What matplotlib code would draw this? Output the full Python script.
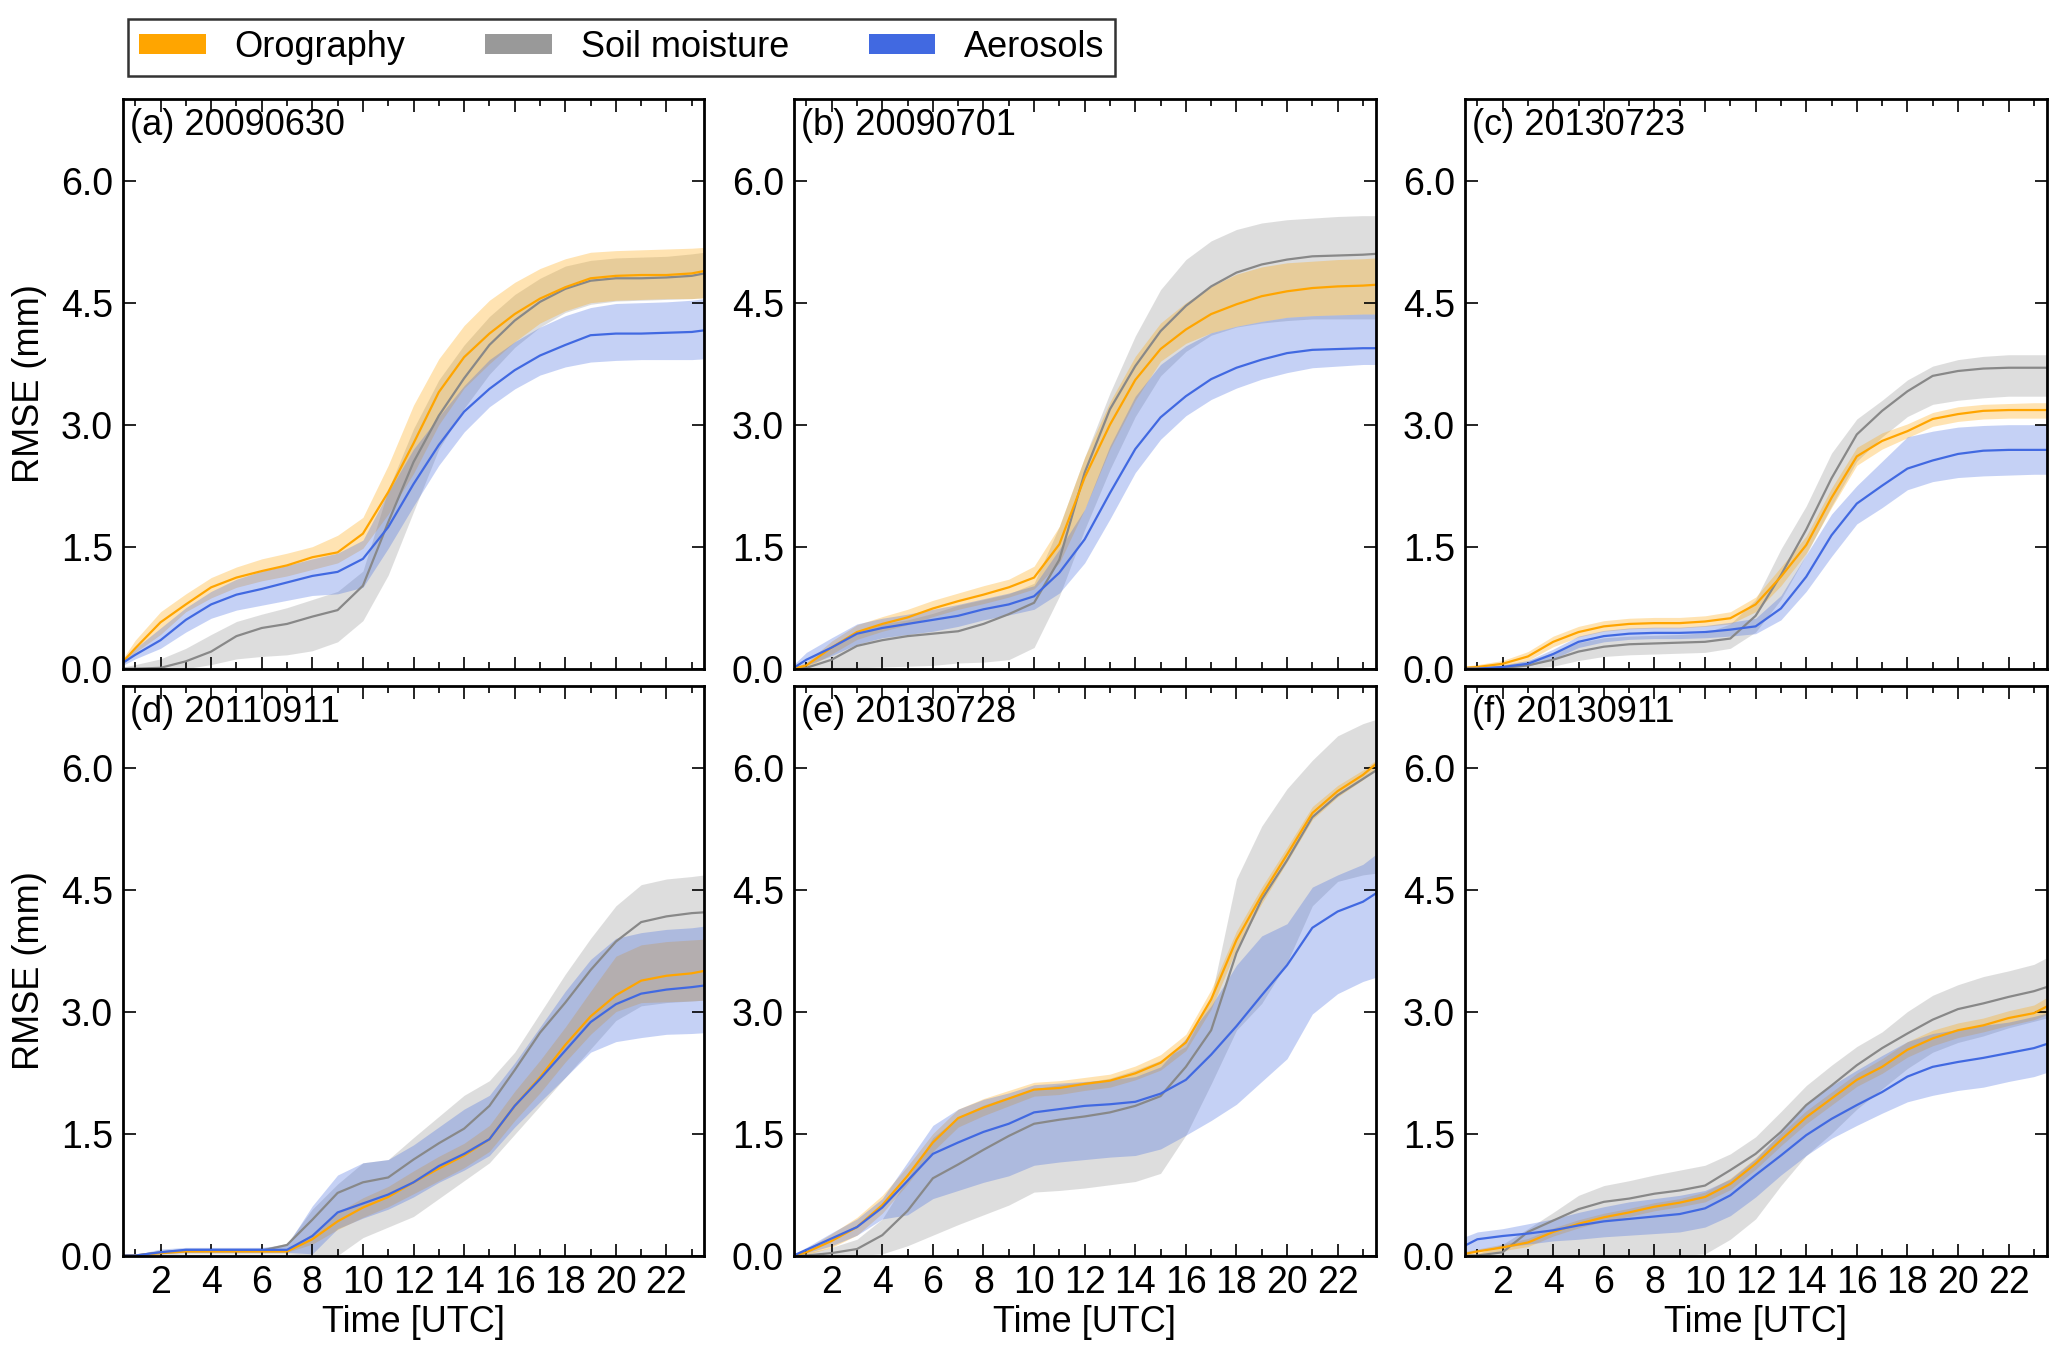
import matplotlib
matplotlib.use("Agg")
from matplotlib import pyplot as plt
from matplotlib.patches import Patch
from matplotlib.ticker import MultipleLocator, FormatStrFormatter

# =================================================
#  ========== PRELIM : CONFIG MATPLOTLIB ==========
# =================================================
matplotlib.rcParams["font.family"] = ["Liberation Sans", "DejaVu Sans"]
matplotlib.rcParams["font.size"] = 26

# hours (UTC)
hours = [0.5, 1, 2, 3, 4, 5, 6, 7, 8, 9, 10, 11, 12, 13, 14, 15, 16, 17, 18, 19, 20, 21, 22, 23, 23.5]

labels = ["(a) 20090630", "(b) 20090701", "(c) 20130723",
          "(d) 20110911", "(e) 20130728", "(f) 20130911"]
series_names = ["Orography", "Soil moisture", "Aerosols"]

# ---------- (a) 20090630 ----------
a_oro = [0.08, 0.25, 0.57, 0.79, 1.0, 1.12, 1.2, 1.27, 1.37, 1.43, 1.66, 2.17, 2.77, 3.4, 3.83, 4.12, 4.36, 4.55, 4.69, 4.8, 4.83, 4.84, 4.84, 4.86, 4.89]
a_oro_lo = [0.05, 0.2, 0.42, 0.7, 0.87, 1.0, 1.08, 1.14, 1.22, 1.3, 1.48, 1.9, 2.4, 3.0, 3.45, 3.75, 4.02, 4.25, 4.4, 4.5, 4.53, 4.54, 4.55, 4.55, 4.56]
a_oro_hi = [0.12, 0.35, 0.7, 0.92, 1.12, 1.25, 1.35, 1.42, 1.5, 1.64, 1.86, 2.5, 3.24, 3.81, 4.22, 4.53, 4.75, 4.92, 5.04, 5.12, 5.14, 5.15, 5.16, 5.17, 5.18]
a_soil = [0.0, 0.0, 0.01, 0.09, 0.21, 0.4, 0.5, 0.55, 0.64, 0.72, 1.02, 1.8, 2.54, 3.11, 3.57, 3.98, 4.28, 4.51, 4.67, 4.77, 4.8, 4.8, 4.81, 4.83, 4.86]
a_soil_lo = [0.0, 0.0, 0.0, 0.0, 0.05, 0.12, 0.15, 0.17, 0.22, 0.33, 0.59, 1.15, 1.93, 2.7, 3.2, 3.62, 3.95, 4.2, 4.38, 4.48, 4.52, 4.53, 4.54, 4.55, 4.56]
a_soil_hi = [0.02, 0.05, 0.12, 0.25, 0.42, 0.58, 0.67, 0.75, 0.85, 0.95, 1.2, 2.2, 2.95, 3.55, 3.98, 4.33, 4.6, 4.8, 4.95, 5.02, 5.05, 5.06, 5.07, 5.1, 5.12]
a_aer = [0.07, 0.17, 0.35, 0.6, 0.79, 0.91, 0.98, 1.06, 1.14, 1.19, 1.35, 1.74, 2.27, 2.75, 3.16, 3.44, 3.67, 3.85, 3.98, 4.1, 4.12, 4.12, 4.13, 4.14, 4.16]
a_aer_lo = [0.04, 0.12, 0.25, 0.45, 0.62, 0.72, 0.78, 0.84, 0.9, 0.92, 1.0, 1.48, 2.0, 2.5, 2.91, 3.22, 3.44, 3.61, 3.71, 3.77, 3.79, 3.8, 3.8, 3.8, 3.81]
a_aer_hi = [0.1, 0.25, 0.5, 0.75, 0.95, 1.1, 1.2, 1.27, 1.35, 1.42, 1.58, 2.17, 2.7, 3.1, 3.48, 3.8, 4.02, 4.2, 4.34, 4.44, 4.49, 4.5, 4.51, 4.53, 4.55]

# ---------- (b) 20090701 ----------
b_oro = [0.0, 0.04, 0.26, 0.45, 0.55, 0.63, 0.74, 0.83, 0.91, 1.0, 1.12, 1.53, 2.35, 3.0, 3.55, 3.93, 4.17, 4.36, 4.48, 4.58, 4.64, 4.68, 4.7, 4.71, 4.72]
b_oro_lo = [0.0, 0.01, 0.18, 0.36, 0.46, 0.54, 0.64, 0.73, 0.8, 0.88, 0.98, 1.3, 1.96, 2.7, 3.3, 3.78, 4.0, 4.13, 4.21, 4.27, 4.32, 4.34, 4.35, 4.36, 4.36]
b_oro_hi = [0.02, 0.08, 0.34, 0.54, 0.64, 0.73, 0.84, 0.93, 1.02, 1.1, 1.26, 1.75, 2.6, 3.28, 3.84, 4.25, 4.5, 4.7, 4.85, 4.94, 4.99, 5.01, 5.03, 5.04, 5.05]
b_soil = [0.0, 0.01, 0.11, 0.28, 0.35, 0.4, 0.43, 0.46, 0.55, 0.67, 0.81, 1.34, 2.41, 3.19, 3.72, 4.15, 4.46, 4.7, 4.87, 4.97, 5.03, 5.07, 5.08, 5.09, 5.1]
b_soil_lo = [0.0, 0.0, 0.0, 0.01, 0.02, 0.03, 0.04, 0.07, 0.08, 0.11, 0.26, 0.89, 1.71, 2.45, 3.1, 3.6, 3.9, 4.1, 4.2, 4.25, 4.28, 4.3, 4.3, 4.3, 4.3]
b_soil_hi = [0.02, 0.05, 0.25, 0.45, 0.55, 0.6, 0.68, 0.78, 0.85, 0.92, 1.05, 1.75, 2.6, 3.39, 4.09, 4.66, 5.03, 5.26, 5.4, 5.48, 5.52, 5.54, 5.56, 5.57, 5.57]
b_aer = [0.01, 0.11, 0.26, 0.43, 0.5, 0.55, 0.6, 0.65, 0.73, 0.79, 0.89, 1.18, 1.59, 2.16, 2.7, 3.09, 3.35, 3.56, 3.7, 3.8, 3.88, 3.92, 3.93, 3.94, 3.94]
b_aer_lo = [0.0, 0.04, 0.16, 0.3, 0.38, 0.42, 0.46, 0.52, 0.6, 0.66, 0.73, 0.93, 1.3, 1.84, 2.41, 2.82, 3.11, 3.31, 3.45, 3.56, 3.64, 3.7, 3.72, 3.74, 3.74]
b_aer_hi = [0.05, 0.2, 0.38, 0.55, 0.62, 0.67, 0.73, 0.79, 0.86, 0.93, 1.02, 1.47, 1.96, 2.74, 3.35, 3.74, 3.97, 4.13, 4.21, 4.27, 4.32, 4.34, 4.35, 4.36, 4.36]

# ---------- (c) 20130723 ----------
c_oro = [0.01, 0.02, 0.06, 0.15, 0.33, 0.45, 0.52, 0.55, 0.56, 0.56, 0.58, 0.62, 0.79, 1.13, 1.52, 2.1, 2.61, 2.8, 2.92, 3.07, 3.13, 3.17, 3.18, 3.18, 3.18]
c_oro_lo = [0.0, 0.0, 0.03, 0.1, 0.27, 0.39, 0.46, 0.49, 0.5, 0.5, 0.52, 0.55, 0.7, 1.02, 1.42, 1.98, 2.5, 2.7, 2.84, 2.98, 3.04, 3.07, 3.08, 3.08, 3.08]
c_oro_hi = [0.03, 0.05, 0.1, 0.21, 0.4, 0.52, 0.59, 0.62, 0.63, 0.63, 0.65, 0.7, 0.88, 1.25, 1.63, 2.22, 2.72, 2.9, 3.01, 3.15, 3.22, 3.25, 3.26, 3.27, 3.27]
c_soil = [0.0, 0.0, 0.01, 0.04, 0.11, 0.21, 0.27, 0.3, 0.31, 0.32, 0.33, 0.37, 0.65, 1.15, 1.71, 2.34, 2.88, 3.17, 3.41, 3.6, 3.66, 3.69, 3.7, 3.7, 3.7]
c_soil_lo = [0.0, 0.0, 0.0, 0.0, 0.03, 0.1, 0.15, 0.17, 0.18, 0.19, 0.2, 0.25, 0.45, 0.85, 1.4, 2.0, 2.55, 2.85, 3.1, 3.25, 3.3, 3.33, 3.35, 3.35, 3.35]
c_soil_hi = [0.01, 0.02, 0.05, 0.1, 0.2, 0.32, 0.38, 0.4, 0.41, 0.42, 0.44, 0.55, 0.85, 1.47, 2.0, 2.65, 3.07, 3.3, 3.55, 3.72, 3.8, 3.84, 3.86, 3.86, 3.86]
c_aer = [0.0, 0.0, 0.02, 0.06, 0.18, 0.33, 0.4, 0.43, 0.44, 0.44, 0.45, 0.48, 0.52, 0.74, 1.13, 1.64, 2.03, 2.25, 2.46, 2.56, 2.64, 2.68, 2.69, 2.69, 2.69]
c_aer_lo = [0.0, 0.0, 0.0, 0.03, 0.12, 0.26, 0.33, 0.36, 0.37, 0.37, 0.38, 0.4, 0.43, 0.6, 0.95, 1.38, 1.78, 1.98, 2.2, 2.3, 2.35, 2.37, 2.38, 2.39, 2.39]
c_aer_hi = [0.01, 0.02, 0.04, 0.1, 0.24, 0.4, 0.47, 0.5, 0.51, 0.51, 0.53, 0.57, 0.62, 0.9, 1.4, 1.9, 2.25, 2.55, 2.85, 2.92, 2.97, 2.99, 3.0, 3.0, 3.0]

# ---------- (d) 20110911 ----------
d_oro = [0.0, 0.0, 0.03, 0.05, 0.05, 0.05, 0.05, 0.05, 0.2, 0.42, 0.59, 0.72, 0.9, 1.07, 1.23, 1.43, 1.84, 2.19, 2.59, 2.94, 3.2, 3.38, 3.44, 3.47, 3.5]
d_oro_lo = [0.0, 0.0, 0.02, 0.04, 0.04, 0.04, 0.04, 0.04, 0.14, 0.32, 0.47, 0.6, 0.76, 0.92, 1.08, 1.28, 1.66, 2.0, 2.38, 2.72, 3.0, 3.11, 3.12, 3.13, 3.14]
d_oro_hi = [0.0, 0.01, 0.05, 0.07, 0.07, 0.07, 0.07, 0.07, 0.27, 0.53, 0.71, 0.85, 1.04, 1.22, 1.38, 1.6, 2.02, 2.4, 2.81, 3.25, 3.68, 3.82, 3.86, 3.88, 3.89]
d_soil = [0.0, 0.0, 0.04, 0.06, 0.06, 0.06, 0.06, 0.13, 0.44, 0.77, 0.9, 0.96, 1.18, 1.38, 1.56, 1.84, 2.28, 2.74, 3.11, 3.51, 3.86, 4.1, 4.17, 4.21, 4.22]
d_soil_lo = [0.0, 0.0, 0.0, 0.02, 0.02, 0.02, 0.02, 0.02, 0.0, 0.0, 0.22, 0.35, 0.48, 0.7, 0.92, 1.14, 1.49, 1.84, 2.19, 2.54, 2.89, 3.07, 3.11, 3.13, 3.14]
d_soil_hi = [0.0, 0.01, 0.06, 0.09, 0.09, 0.09, 0.09, 0.15, 0.57, 0.88, 1.14, 1.18, 1.45, 1.71, 1.97, 2.15, 2.5, 2.98, 3.46, 3.9, 4.3, 4.56, 4.63, 4.66, 4.68]
d_aer = [0.0, 0.0, 0.04, 0.07, 0.07, 0.07, 0.07, 0.07, 0.24, 0.53, 0.64, 0.75, 0.9, 1.1, 1.25, 1.43, 1.84, 2.17, 2.52, 2.87, 3.09, 3.22, 3.27, 3.3, 3.32]
d_aer_lo = [0.0, 0.0, 0.02, 0.04, 0.04, 0.04, 0.04, 0.04, 0.02, 0.33, 0.46, 0.57, 0.72, 0.9, 1.05, 1.23, 1.58, 1.89, 2.19, 2.5, 2.63, 2.68, 2.72, 2.73, 2.74]
d_aer_hi = [0.0, 0.01, 0.08, 0.1, 0.1, 0.1, 0.1, 0.13, 0.61, 0.99, 1.14, 1.18, 1.36, 1.58, 1.8, 1.97, 2.37, 2.81, 3.25, 3.64, 3.9, 3.97, 4.01, 4.03, 4.05]

# ---------- (e) 20130728 ----------
e_oro = [0.0, 0.04, 0.18, 0.35, 0.62, 0.98, 1.39, 1.69, 1.82, 1.93, 2.04, 2.06, 2.11, 2.15, 2.24, 2.37, 2.62, 3.15, 3.88, 4.43, 4.93, 5.44, 5.71, 5.91, 6.04]
e_oro_lo = [0.0, 0.01, 0.1, 0.25, 0.52, 0.88, 1.28, 1.58, 1.72, 1.84, 1.96, 1.98, 2.03, 2.07, 2.16, 2.28, 2.52, 3.03, 3.77, 4.33, 4.84, 5.36, 5.64, 5.85, 5.99]
e_oro_hi = [0.02, 0.08, 0.27, 0.47, 0.74, 1.1, 1.5, 1.8, 1.93, 2.03, 2.13, 2.15, 2.19, 2.23, 2.33, 2.47, 2.72, 3.27, 3.99, 4.53, 5.02, 5.52, 5.78, 5.97, 6.09]
e_soil = [0.0, 0.0, 0.03, 0.08, 0.25, 0.55, 0.95, 1.12, 1.3, 1.47, 1.62, 1.67, 1.71, 1.76, 1.84, 1.96, 2.32, 2.77, 3.72, 4.38, 4.86, 5.39, 5.66, 5.86, 5.96]
e_soil_lo = [0.0, 0.0, 0.0, 0.0, 0.02, 0.12, 0.25, 0.38, 0.5, 0.62, 0.78, 0.8, 0.83, 0.87, 0.91, 1.01, 1.48, 2.11, 2.77, 3.1, 3.6, 4.3, 4.6, 4.68, 4.7]
e_soil_hi = [0.01, 0.03, 0.1, 0.2, 0.45, 0.95, 1.45, 1.7, 1.85, 1.95, 2.05, 2.1, 2.13, 2.18, 2.28, 2.4, 2.57, 3.17, 4.63, 5.28, 5.74, 6.09, 6.39, 6.54, 6.59]
e_aer = [0.0, 0.07, 0.21, 0.35, 0.59, 0.92, 1.25, 1.39, 1.52, 1.62, 1.76, 1.8, 1.84, 1.86, 1.89, 1.99, 2.16, 2.47, 2.82, 3.2, 3.57, 4.03, 4.23, 4.35, 4.45]
e_aer_lo = [0.0, 0.03, 0.12, 0.25, 0.45, 0.5, 0.7, 0.8, 0.9, 0.98, 1.11, 1.15, 1.18, 1.21, 1.23, 1.31, 1.48, 1.66, 1.86, 2.14, 2.42, 2.97, 3.22, 3.37, 3.42]
e_aer_hi = [0.02, 0.1, 0.28, 0.45, 0.7, 1.15, 1.6, 1.8, 1.92, 2.0, 2.1, 2.12, 2.14, 2.16, 2.2, 2.32, 2.67, 3.07, 3.57, 3.93, 4.08, 4.53, 4.68, 4.81, 4.93]

# ---------- (f) 20130911 ----------
f_oro = [0.02, 0.05, 0.1, 0.16, 0.29, 0.39, 0.47, 0.53, 0.6, 0.65, 0.72, 0.88, 1.13, 1.42, 1.7, 1.93, 2.16, 2.32, 2.53, 2.67, 2.77, 2.83, 2.92, 2.98, 3.06]
f_oro_lo = [0.0, 0.02, 0.06, 0.11, 0.24, 0.34, 0.42, 0.48, 0.55, 0.6, 0.66, 0.81, 1.06, 1.35, 1.62, 1.85, 2.08, 2.24, 2.44, 2.58, 2.68, 2.75, 2.83, 2.9, 2.96]
f_oro_hi = [0.05, 0.08, 0.14, 0.21, 0.34, 0.44, 0.52, 0.58, 0.65, 0.7, 0.78, 0.95, 1.2, 1.5, 1.78, 2.01, 2.24, 2.42, 2.63, 2.77, 2.86, 2.92, 3.01, 3.08, 3.17]
f_soil = [0.0, 0.0, 0.04, 0.29, 0.43, 0.57, 0.66, 0.7, 0.76, 0.8, 0.86, 1.05, 1.25, 1.52, 1.85, 2.09, 2.34, 2.55, 2.73, 2.9, 3.03, 3.1, 3.18, 3.25, 3.3]
f_soil_lo = [0.0, 0.0, 0.0, 0.0, 0.0, 0.0, 0.0, 0.0, 0.0, 0.0, 0.02, 0.2, 0.45, 0.86, 1.23, 1.5, 1.8, 2.05, 2.3, 2.5, 2.62, 2.7, 2.8, 2.88, 2.92]
f_soil_hi = [0.0, 0.02, 0.14, 0.33, 0.53, 0.74, 0.86, 0.92, 0.99, 1.05, 1.11, 1.25, 1.46, 1.77, 2.09, 2.34, 2.57, 2.75, 3.0, 3.2, 3.33, 3.43, 3.5, 3.58, 3.66]
f_aer = [0.12, 0.2, 0.24, 0.27, 0.31, 0.37, 0.42, 0.45, 0.48, 0.51, 0.58, 0.74, 0.99, 1.23, 1.48, 1.68, 1.85, 2.01, 2.2, 2.32, 2.38, 2.43, 2.49, 2.55, 2.6]
f_aer_lo = [0.02, 0.06, 0.1, 0.14, 0.18, 0.2, 0.23, 0.25, 0.27, 0.29, 0.35, 0.49, 0.72, 0.99, 1.23, 1.44, 1.6, 1.75, 1.89, 1.97, 2.03, 2.07, 2.14, 2.2, 2.25]
f_aer_hi = [0.23, 0.29, 0.33, 0.39, 0.45, 0.53, 0.6, 0.66, 0.7, 0.74, 0.8, 0.94, 1.19, 1.52, 1.85, 2.09, 2.28, 2.46, 2.63, 2.73, 2.78, 2.83, 2.87, 2.94, 2.98]

panels = [
    [(a_oro, a_oro_lo, a_oro_hi), (a_soil, a_soil_lo, a_soil_hi), (a_aer, a_aer_lo, a_aer_hi)],
    [(b_oro, b_oro_lo, b_oro_hi), (b_soil, b_soil_lo, b_soil_hi), (b_aer, b_aer_lo, b_aer_hi)],
    [(c_oro, c_oro_lo, c_oro_hi), (c_soil, c_soil_lo, c_soil_hi), (c_aer, c_aer_lo, c_aer_hi)],
    [(d_oro, d_oro_lo, d_oro_hi), (d_soil, d_soil_lo, d_soil_hi), (d_aer, d_aer_lo, d_aer_hi)],
    [(e_oro, e_oro_lo, e_oro_hi), (e_soil, e_soil_lo, e_soil_hi), (e_aer, e_aer_lo, e_aer_hi)],
    [(f_oro, f_oro_lo, f_oro_hi), (f_soil, f_soil_lo, f_soil_hi), (f_aer, f_aer_lo, f_aer_hi)],
]

line_colors = ["#FFA500", "#888888", "#4169E1"]
fill_alphas = [0.3, 0.28, 0.3]
legend_colors = ["#FFA500", "#999999", "#4169E1"]

# =================================================
#         ========== DRAW PANELS ==========
# =================================================
fig = plt.figure(figsize=(20.67, 13.61), dpi=100)

lefts = [0.0593, 0.384, 0.7086]
bottoms = [0.5087, 0.0775]
w, h = 0.2815, 0.4183

for i, data in enumerate(panels):
    row, col = divmod(i, 3)
    ax = fig.add_axes([lefts[col], bottoms[row], w, h])

    # shaded ranges first, soil moisture underneath
    for k in [1, 0, 2]:
        mean, lo, hi = data[k]
        ax.fill_between(hours, lo, hi, color=line_colors[k], alpha=fill_alphas[k], linewidth=0)
    for k in [1, 0, 2]:
        mean, lo, hi = data[k]
        ax.plot(hours, mean, color=line_colors[k], linewidth=1.6)

    ax.set_xlim(0.5, 23.5)
    ax.set_ylim(0, 7.0)
    ax.set_xticks(range(2, 24, 2))
    ax.xaxis.set_minor_locator(MultipleLocator(1))
    ax.yaxis.set_major_locator(MultipleLocator(1.5))
    ax.yaxis.set_major_formatter(FormatStrFormatter("%.1f"))
    ax.tick_params(which="both", direction="in", top=True, right=True, width=1.2)
    ax.tick_params(which="major", length=9, labelsize=27, pad=7)
    ax.tick_params(which="minor", length=5)
    for s in ax.spines.values():
        s.set_linewidth(2.0)

    ax.text(0.012, 0.985, labels[i], transform=ax.transAxes, ha="left", va="top", fontsize=26)

    if row == 0:
        ax.tick_params(labelbottom=False)
    else:
        ax.set_xlabel("Time [UTC]", fontsize=26, labelpad=3)
    if col == 0:
        ax.set_ylabel("RMSE (mm)", fontsize=26, labelpad=10)

handles = [Patch(facecolor=c, edgecolor="none") for c in legend_colors]
leg = fig.legend(handles, series_names, loc="upper left", bbox_to_anchor=(0.062, 0.986),
                 ncol=3, fontsize=26, frameon=True, fancybox=False, borderaxespad=0,
                 handlelength=1.85, handleheight=0.45, handletextpad=0.8,
                 columnspacing=2.2, borderpad=0.3)
leg.get_frame().set_edgecolor("black")
leg.get_frame().set_linewidth(1.8)

plt.savefig("out.png", dpi=100)
